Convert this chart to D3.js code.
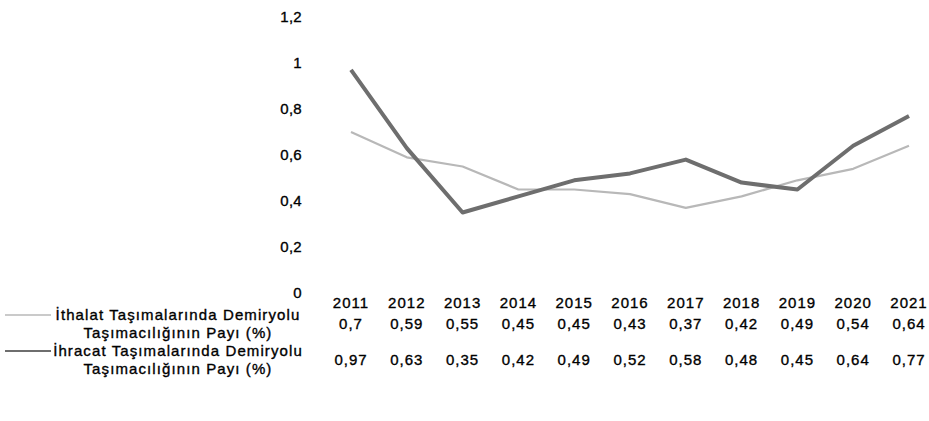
<!DOCTYPE html>
<html>
<head>
<meta charset="utf-8">
<script src="https://cdn.jsdelivr.net/npm/d3@7"></script>
<style>
  html, body { margin: 0; padding: 0; background: #fff; }
  svg { display: block; }
  text { font-family: "Liberation Sans", Arial, sans-serif; fill: #000; stroke: #000; stroke-width: 0.35px; }
</style>
</head>
<body>
<svg id="chart" width="929" height="421"></svg>
<script>
// Rail share of import / export transport, 2011–2021
const years = ["2011","2012","2013","2014","2015","2016","2017","2018","2019","2020","2021"];
const ithalat = [0.7, 0.59, 0.55, 0.45, 0.45, 0.43, 0.37, 0.42, 0.49, 0.54, 0.64];
const ihracat = [0.97, 0.63, 0.35, 0.42, 0.49, 0.52, 0.58, 0.48, 0.45, 0.64, 0.77];
const yTicks = [0, 0.2, 0.4, 0.6, 0.8, 1, 1.2];
const seriesNames = [
  ["İthalat Taşımalarında Demiryolu", "Taşımacılığının Payı (%)"],
  ["İhracat Taşımalarında Demiryolu", "Taşımacılığının Payı (%)"]
];
const seriesColors = ["#b8b8b8", "#6e6e6e"];
const seriesWidths = [2.2, 4];

const fmt = v => String(v).replace(".", ",");

const svg = d3.select("#chart");

const x = d3.scalePoint().domain(years).range([351, 909]);
const y = d3.scaleLinear().domain([0, 1.2]).range([293, 17]);

// value axis: labels only, no line or ticks
const yAxis = d3.axisLeft(y).tickValues(yTicks).tickFormat(fmt).tickSize(0).tickPadding(0);
const gy = svg.append("g").attr("transform", "translate(302,0)").call(yAxis);
gy.select(".domain").remove();
gy.selectAll("text")
  .style("font-size", "15px")
  .style("font-family", "Liberation Sans, Arial, sans-serif")
  .style("letter-spacing", "0.3px")
  .attr("fill", "#000");

// series lines
const line = d3.line().x((d, i) => x(years[i])).y(d => y(d));
[ithalat, ihracat].forEach((vals, s) => {
  svg.append("path")
    .datum(vals)
    .attr("fill", "none")
    .attr("stroke", seriesColors[s])
    .attr("stroke-width", seriesWidths[s])
    .attr("stroke-linejoin", "round")
    .attr("d", line);
});

// data table: category row
svg.append("g").selectAll("text").data(years).join("text")
  .attr("x", d => x(d)).attr("y", 303)
  .attr("dy", "0.35em")
  .attr("text-anchor", "middle")
  .style("font-size", "15px").style("letter-spacing", "1px")
  .text(d => d);

// data table: value rows, each with its legend key
const rowY = [324, 360];
const legendY = [315, 351];
[ithalat, ihracat].forEach((vals, s) => {
  svg.append("g").selectAll("text").data(vals).join("text")
    .attr("x", (d, i) => x(years[i])).attr("y", rowY[s])
    .attr("dy", "0.35em")
    .attr("text-anchor", "middle")
    .style("font-size", "15px").style("letter-spacing", "1px")
    .text(d => fmt(d));

  svg.append("line")
    .attr("x1", 5).attr("x2", 51)
    .attr("y1", legendY[s]).attr("y2", legendY[s])
    .attr("stroke", seriesColors[s]).attr("stroke-width", s === 0 ? 1.5 : 2);

  seriesNames[s].forEach((t, k) => {
    svg.append("text")
      .attr("x", 178).attr("y", legendY[s] + k * 18)
      .attr("dy", "0.35em")
      .attr("text-anchor", "middle")
      .style("font-size", "15px").style("letter-spacing", "1.1px")
      .text(t);
  });
});
</script>
</body>
</html>
